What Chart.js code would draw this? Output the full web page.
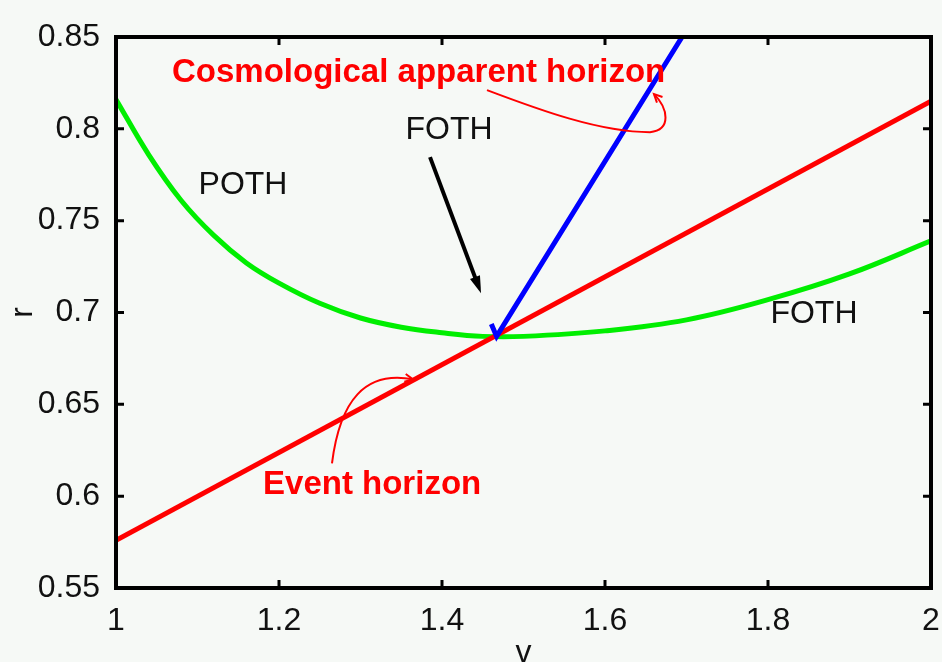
<!DOCTYPE html>
<html>
<head>
<meta charset="utf-8">
<script src="https://cdn.jsdelivr.net/npm/chart.js@4.4.1/dist/chart.umd.min.js"></script>
<style>
html, body { margin: 0; padding: 0; background: #f6f9f6; }
#wrap { width: 942px; height: 662px; }
</style>
</head>
<body>
<div id="wrap"><canvas id="horizonChart"></canvas></div>
<script>
'use strict';

const vTicks = [1, 1.2, 1.4, 1.6, 1.8, 2];
const rTicks = [0.55, 0.6, 0.65, 0.7, 0.75, 0.8, 0.85];

// event horizon (red)
const eventV = [1, 2];
const eventR = [0.576, 0.815];

// outer trapping horizon, past branch on the left, future branch on the right (green)
const othV = [1.0, 1.04, 1.08, 1.12, 1.16, 1.2, 1.25, 1.3, 1.35, 1.4, 1.45, 1.5, 1.6, 1.7, 1.8, 1.9, 2.0];
const othR = [0.816, 0.786, 0.761, 0.742, 0.727, 0.716, 0.705, 0.697, 0.692, 0.689, 0.687, 0.687, 0.690, 0.696, 0.707, 0.721, 0.739];

// cosmological apparent horizon (blue)
const cahV = [1.4605, 1.467, 1.6945];
const cahR = [0.6937, 0.687, 0.85];

function toPoints(xs, ys) {
    return xs.map((x, i) => ({x: x, y: ys[i]}));
}

const FONT = '"Liberation Sans", Arial, Helvetica, sans-serif';
Chart.defaults.font.family = FONT;
Chart.defaults.color = '#111';

// text labels, placed in (v, r)
const labels = [
    {text: 'Cosmological apparent horizon', v: 1.0687, r: 0.8304, color: '#ff0000', bold: true, align: 'left'},
    {text: 'FOTH', v: 1.4086, r: 0.7993, color: '#111', align: 'center'},
    {text: 'POTH', v: 1.1558, r: 0.7693, color: '#111', align: 'center'},
    {text: 'FOTH', v: 1.8564, r: 0.699, color: '#111', align: 'center'},
    {text: 'Event horizon', v: 1.1804, r: 0.6064, color: '#ff0000', bold: true, align: 'left'}
];

function px(chart, v, r) {
    return [chart.scales.x.getPixelForValue(v), chart.scales.y.getPixelForValue(r)];
}

function openHead(ctx, tip, from, len) {
    const ang = Math.atan2(tip[1] - from[1], tip[0] - from[0]);
    ctx.beginPath();
    ctx.moveTo(tip[0] - len * Math.cos(ang - 0.45), tip[1] - len * Math.sin(ang - 0.45));
    ctx.lineTo(tip[0], tip[1]);
    ctx.lineTo(tip[0] - len * Math.cos(ang + 0.45), tip[1] - len * Math.sin(ang + 0.45));
    ctx.stroke();
}

const framePlugin = {
    id: 'frame',
    afterDatasetsDraw(chart) {
        const {ctx, chartArea: a, scales} = chart;
        ctx.save();
        ctx.strokeStyle = '#000';
        ctx.lineWidth = 3;
        ctx.beginPath();
        scales.x.ticks.forEach(t => {
            const x = scales.x.getPixelForValue(t.value);
            ctx.moveTo(x, a.bottom); ctx.lineTo(x, a.bottom - 8);
            ctx.moveTo(x, a.top); ctx.lineTo(x, a.top + 8);
        });
        scales.y.ticks.forEach(t => {
            const y = scales.y.getPixelForValue(t.value);
            ctx.moveTo(a.left, y); ctx.lineTo(a.left + 8, y);
            ctx.moveTo(a.right, y); ctx.lineTo(a.right - 8, y);
        });
        ctx.stroke();
        ctx.lineWidth = 4;
        ctx.strokeRect(a.left, a.top, a.right - a.left, a.bottom - a.top);
        ctx.restore();
    }
};

const notesPlugin = {
    id: 'notes',
    afterDraw(chart) {
        const ctx = chart.ctx;
        ctx.save();
        ctx.textBaseline = 'middle';
        labels.forEach(l => {
            ctx.font = (l.bold ? 'bold 33px ' : '32px ') + FONT;
            ctx.fillStyle = l.color;
            ctx.textAlign = l.align;
            const p = px(chart, l.v, l.r);
            ctx.fillText(l.text, p[0], p[1]);
        });

        // black arrow under the upper FOTH label
        const s = px(chart, 1.3853, 0.7846);
        const e = px(chart, 1.4479, 0.7105);
        const ang = Math.atan2(e[1] - s[1], e[0] - s[0]);
        ctx.strokeStyle = '#000';
        ctx.fillStyle = '#000';
        ctx.lineWidth = 4;
        ctx.beginPath();
        ctx.moveTo(s[0], s[1]);
        ctx.lineTo(e[0] - 12 * Math.cos(ang), e[1] - 12 * Math.sin(ang));
        ctx.stroke();
        ctx.beginPath();
        ctx.moveTo(e[0], e[1]);
        ctx.lineTo(e[0] - 18 * Math.cos(ang - 0.3), e[1] - 18 * Math.sin(ang - 0.3));
        ctx.lineTo(e[0] - 18 * Math.cos(ang + 0.3), e[1] - 18 * Math.sin(ang + 0.3));
        ctx.closePath();
        ctx.fill();

        // thin red pointers
        ctx.strokeStyle = '#ff0000';
        ctx.lineWidth = 2;
        const c0 = px(chart, 1.4552, 0.8211), c1 = px(chart, 1.5202, 0.8102), c2 = px(chart, 1.5939, 0.7982),
              c3 = px(chart, 1.6552, 0.7982), c4 = px(chart, 1.6822, 0.7993), c5 = px(chart, 1.6773, 0.8113),
              c6 = px(chart, 1.6601, 0.8189);
        ctx.beginPath();
        ctx.moveTo(c0[0], c0[1]);
        ctx.bezierCurveTo(c1[0], c1[1], c2[0], c2[1], c3[0], c3[1]);
        ctx.bezierCurveTo(c4[0], c4[1], c5[0], c5[1], c6[0], c6[1]);
        ctx.stroke();
        openHead(ctx, c6, c5, 9);

        const e0 = px(chart, 1.265, 0.6179), e1 = px(chart, 1.2748, 0.6522), e2 = px(chart, 1.3055, 0.6685),
              e3 = px(chart, 1.3644, 0.6636);
        ctx.beginPath();
        ctx.moveTo(e0[0], e0[1]);
        ctx.bezierCurveTo(e1[0], e1[1], e2[0], e2[1], e3[0], e3[1]);
        ctx.stroke();
        openHead(ctx, e3, e2, 9);
        ctx.restore();
    }
};

function fmt(v) {
    return String(+Number(v).toFixed(2));
}

const chart = new Chart(document.getElementById('horizonChart'), {
    type: 'line',
    data: {
        datasets: [{
            label: 'cosmological apparent horizon',
            data: toPoints(cahV, cahR),
            borderColor: '#0000ff',
            borderWidth: 5,
            pointRadius: 0,
            tension: 0,
            order: 1
        }, {
            label: 'event horizon',
            data: toPoints(eventV, eventR),
            borderColor: '#ff0000',
            borderWidth: 5,
            pointRadius: 0,
            tension: 0,
            order: 2
        }, {
            label: 'outer trapping horizon',
            data: toPoints(othV, othR),
            borderColor: '#00ee00',
            borderWidth: 5,
            pointRadius: 0,
            tension: 0.4,
            order: 3
        }]
    },
    options: {
        responsive: true,
        maintainAspectRatio: false,
        animation: false,
        layout: {padding: {left: 0, top: 37, right: 11, bottom: 0}},
        plugins: {legend: {display: false}, tooltip: {enabled: false}},
        scales: {
            x: {
                type: 'linear',
                min: 1,
                max: 2,
                grid: {display: false, drawTicks: false},
                border: {display: false},
                afterBuildTicks: s => { s.ticks = vTicks.map(v => ({value: v})); },
                afterFit: s => { s.height = 74; s.paddingLeft = 0; s.paddingRight = 0; },
                ticks: {font: {size: 32}, padding: 14, maxRotation: 0, callback: fmt},
                title: {display: true, text: 'v', font: {size: 32}, padding: {top: 0, bottom: -10}}
            },
            y: {
                min: 0.55,
                max: 0.85,
                grid: {display: false, drawTicks: false},
                border: {display: false},
                afterBuildTicks: s => { s.ticks = rTicks.map(v => ({value: v})); },
                afterFit: s => { s.width = 116; s.paddingTop = 0; s.paddingBottom = 0; },
                ticks: {font: {size: 32}, padding: 16, callback: fmt},
                title: {display: true, text: 'r', font: {size: 32}, padding: {top: 4, bottom: 0}}
            }
        }
    },
    plugins: [framePlugin, notesPlugin]
});
</script>
</body>
</html>
